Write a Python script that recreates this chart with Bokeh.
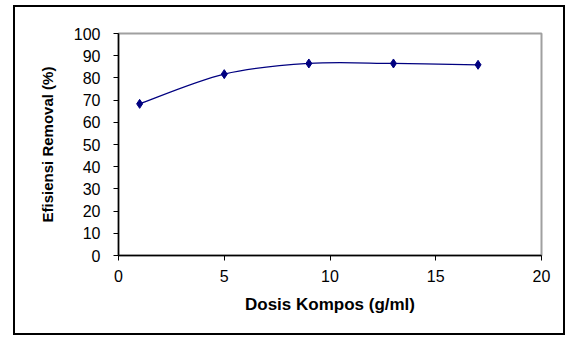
from bokeh.plotting import figure
from bokeh.models import FixedTicker, Range1d
from bokeh.embed import file_html
from bokeh.resources import INLINE

dosis = [1, 5, 9, 13, 17]
efisiensi = [68.3, 81.7, 86.5, 86.5, 85.9]
x_ticks = [0, 5, 10, 15, 20]
y_ticks = [0, 10, 20, 30, 40, 50, 60, 70, 80, 90, 100]

p = figure(width=548, height=326, output_backend="svg", toolbar_location=None,
           x_range=Range1d(0, 20), y_range=Range1d(0, 100),
           min_border_left=103, min_border_right=22, min_border_top=26, min_border_bottom=78)
p.frame_width = 423
p.frame_height = 222
p.styles = {"border": "2px solid black", "margin-left": "13px", "margin-top": "5px"}
p.background_fill_color = "white"
p.border_fill_color = "white"
p.grid.visible = False
p.outline_line_color = "#a0a0a0"
p.outline_line_width = 2

FONT = "Liberation Sans"
for ax in (p.xaxis[0], p.yaxis[0]):
    ax.axis_line_color = "black"
    ax.axis_line_width = 1.5
    ax.major_tick_line_color = "black"
    ax.major_tick_in = 0
    ax.major_tick_out = 5
    ax.minor_tick_line_color = None
    ax.major_label_text_font = FONT
    ax.major_label_text_font_size = "16px"
    ax.major_label_text_color = "black"
    ax.axis_label_text_font = FONT
    ax.axis_label_text_font_style = "bold"
    ax.axis_label_text_color = "black"

p.xaxis.axis_label_text_font_size = "17px"
p.yaxis.axis_label_text_font_size = "15px"
p.xaxis.ticker = FixedTicker(ticks=x_ticks)
p.yaxis.ticker = FixedTicker(ticks=y_ticks)
p.xaxis.axis_label = "Dosis Kompos (g/ml)"
p.yaxis.axis_label = "Efisiensi Removal (%)"
p.xaxis.major_label_standoff = 9
p.xaxis.axis_label_standoff = 10
p.yaxis.major_label_standoff = 13
p.yaxis.axis_label_standoff = 15

# smoothed line (Catmull-Rom style bezier segments through the data points)
n = len(dosis)
x0, y0, x1, y1, cx0, cy0, cx1, cy1 = [], [], [], [], [], [], [], []
for i in range(n - 1):
    xp, yp = (dosis[i - 1], efisiensi[i - 1]) if i > 0 else (dosis[i], efisiensi[i])
    xa, ya = dosis[i], efisiensi[i]
    xb, yb = dosis[i + 1], efisiensi[i + 1]
    xn, yn = (dosis[i + 2], efisiensi[i + 2]) if i + 2 < n else (xb, yb)
    x0.append(xa); y0.append(ya); x1.append(xb); y1.append(yb)
    cx0.append(xa + (xb - xp) / 6); cy0.append(ya + (yb - yp) / 6)
    cx1.append(xb - (xn - xa) / 6); cy1.append(yb - (yn - ya) / 6)
p.bezier(x0=x0, y0=y0, x1=x1, y1=y1, cx0=cx0, cy0=cy0, cx1=cx1, cy1=cy1,
         line_color="#000080", line_width=1.2)
p.scatter(dosis, efisiensi, marker="diamond", size=9, fill_color="#000080",
          line_color="#000080")

open("out.html", "w").write(file_html(p, INLINE))
